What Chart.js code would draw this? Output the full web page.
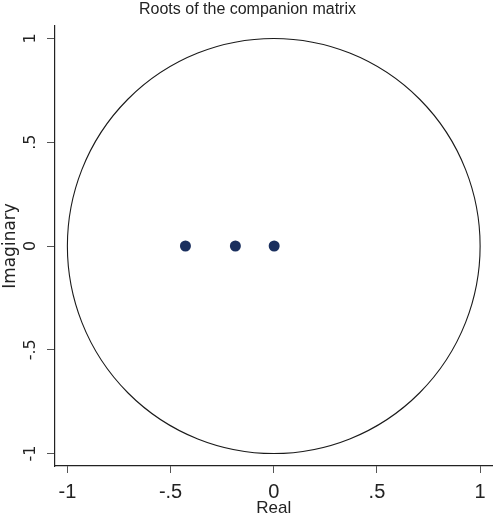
<!DOCTYPE html>
<html>
<head>
<meta charset="utf-8">
<script src="https://cdn.jsdelivr.net/npm/chart.js@4/dist/chart.umd.min.js"></script>
<style>
html,body{margin:0;padding:0;background:#fff;}
#wrap{width:498px;height:517px;position:relative;}
</style>
</head>
<body>
<div id="wrap"><canvas id="c" width="498" height="517"></canvas></div>
<script>
// Data
const realParts = [-0.428, -0.186, 0.002];
const imagParts = [0, 0, 0];
const tickValues = [-1, -0.5, 0, 0.5, 1];
const tickLabels = ['-1', '-.5', '0', '.5', '1'];
const unitCircleRadius = [1];

const points = realParts.map((r, i) => ({x: r, y: imagParts[i]}));
const labelFor = v => {
  const i = tickValues.findIndex(t => Math.abs(t - v) < 1e-9);
  return i >= 0 ? tickLabels[i] : '';
};

const circlePlugin = {
  id: 'unitCircle',
  beforeDatasetsDraw(chart) {
    const {ctx, scales: {x, y}} = chart;
    const cx = x.getPixelForValue(0), cy = y.getPixelForValue(0);
    const rx = x.getPixelForValue(unitCircleRadius[0]) - cx;
    const ry = cy - y.getPixelForValue(unitCircleRadius[0]);
    ctx.save();
    ctx.beginPath();
    ctx.ellipse(cx, cy, rx, ry, 0, 0, Math.PI * 2);
    ctx.strokeStyle = '#1a1a1a';
    ctx.lineWidth = 1.1;
    ctx.stroke();
    ctx.restore();
  }
};

const sans = "'Liberation Sans', Arial, sans-serif";
const wide = "'DejaVu Sans', sans-serif";

new Chart(document.getElementById('c'), {
  type: 'scatter',
  data: {
    datasets: [{
      data: points,
      backgroundColor: '#1a2f5e',
      borderColor: '#1a2f5e',
      pointRadius: 5.5,
      pointHoverRadius: 5.5,
      borderWidth: 0
    }]
  },
  options: {
    responsive: false,
    animation: false,
    events: [],
    layout: {padding: {top: 0, left: 0, right: 3, bottom: 0}},
    plugins: {
      legend: {display: false},
      tooltip: {enabled: false},
      title: {
        display: true,
        text: 'Roots of the companion matrix',
        color: '#222',
        font: {family: sans, size: 16, weight: 'normal', lineHeight: 1},
        padding: {top: 2, bottom: 8}
      }
    },
    scales: {
      x: {
        type: 'linear',
        min: -1.06, max: 1.06,
        afterBuildTicks: s => { s.ticks = tickValues.map(v => ({value: v})); },
        afterFit: s => { s.height = 51; },
        grid: {display: true, drawOnChartArea: false, drawTicks: true, tickLength: 7, color: '#555', lineWidth: 1},
        border: {display: true, color: '#222', width: 1.2},
        ticks: {
          color: '#222',
          padding: 7,
          maxRotation: 0, minRotation: 0,
          font: {family: sans, size: 20},
          callback: v => labelFor(v)
        },
        title: {
          display: true, text: 'Real', color: '#222',
          font: {family: sans, size: 17, lineHeight: 1},
          padding: {top: 0, bottom: 0}
        }
      },
      y: {
        type: 'linear',
        min: -1.06, max: 1.06,
        afterBuildTicks: s => { s.ticks = tickValues.map(v => ({value: v})); },
        afterFit: s => { s.width = 55; },
        grid: {display: true, drawOnChartArea: false, drawTicks: true, tickLength: 8, color: '#555', lineWidth: 1},
        border: {display: true, color: '#222', width: 1.2},
        ticks: {
          color: '#222',
          padding: 6,
          minRotation: 90, maxRotation: 90,
          crossAlign: 'center',
          font: {family: wide, size: 16},
          callback: v => labelFor(v)
        },
        title: {
          display: true, text: 'Imaginary', color: '#222',
          font: {family: wide, size: 17, lineHeight: 1.2},
          padding: {top: 0, bottom: 0}
        }
      }
    }
  },
  plugins: [circlePlugin]
});
</script>
</body>
</html>
